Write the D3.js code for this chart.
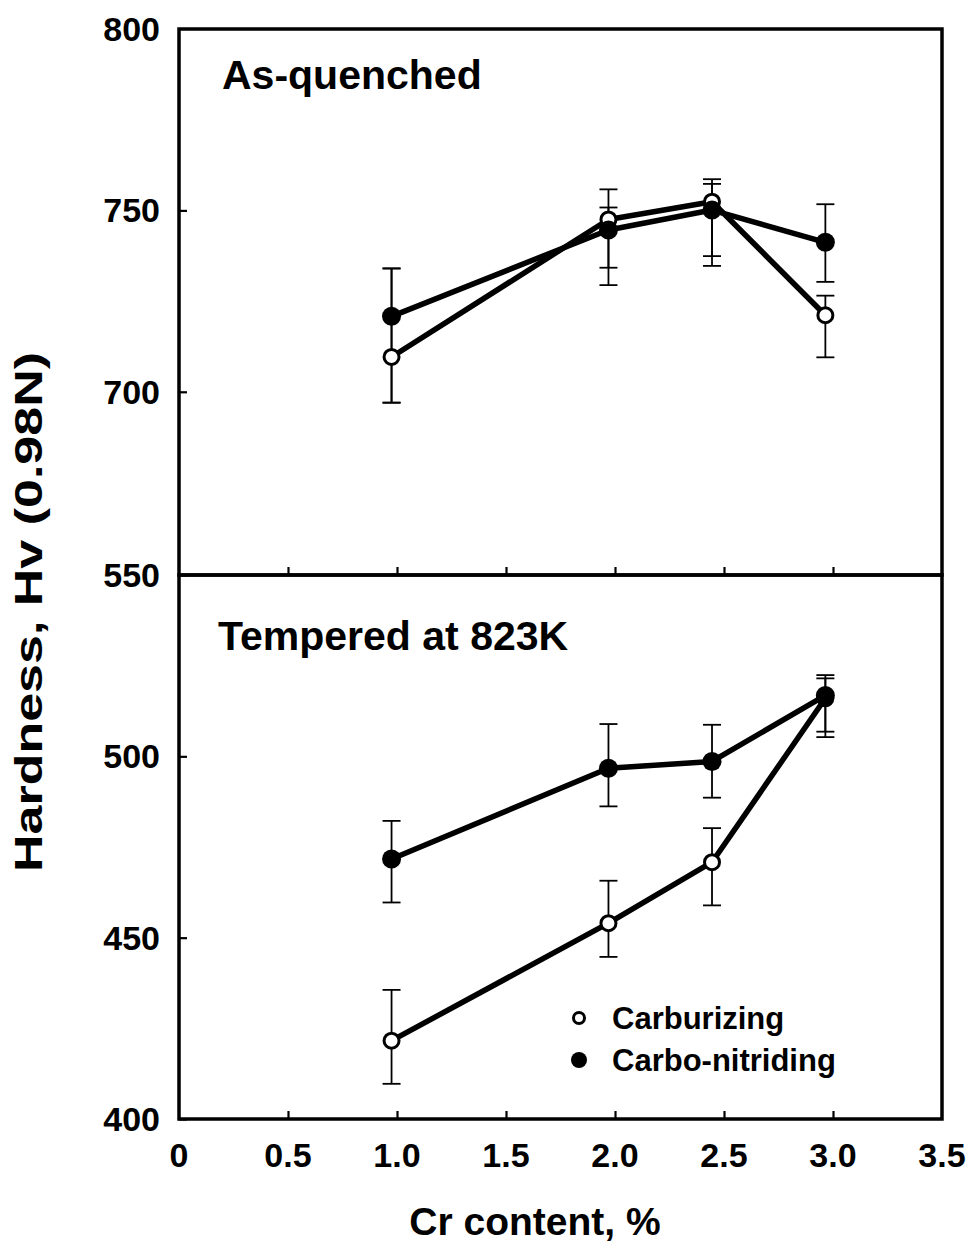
<!DOCTYPE html>
<html>
<head>
<meta charset="utf-8">
<script src="https://cdn.jsdelivr.net/npm/d3@7"></script>
<style>
  html, body { margin: 0; padding: 0; background: #fff; }
  svg { display: block; }
  text { font-family: "Liberation Sans", Arial, Helvetica, sans-serif; font-weight: bold; fill: #000; }
</style>
</head>
<body>
<svg id="chart" width="972" height="1248"></svg>
<script>
// ---- data ----
const crContent = [0.975, 1.97, 2.445, 2.965];

const xTicks = [0, 0.5, 1.0, 1.5, 2.0, 2.5, 3.0, 3.5];
const xTickLabels = ["0", "0.5", "1.0", "1.5", "2.0", "2.5", "3.0", "3.5"];
const topYTicks = [700, 750, 800];
const lowYTicks = [400, 450, 500, 550];

// As-quenched
const aqCarburizing = [709.6, 747.5, 752.4, 721.1];
const aqCarburizingLo = [697.0, 734.2, 737.4, 709.5];
const aqCarburizingHi = [734.0, 750.8, 758.6, 726.5];
const aqCarboNitriding = [720.8, 744.6, 750.1, 741.2];
const aqCarboNitridingLo = [697.0, 729.4, 734.7, 730.3];
const aqCarboNitridingHi = [734.0, 755.8, 757.3, 751.7];

// Tempered at 823K
const tpCarburizing = [421.6, 454.0, 470.8, 516.0];
const tpCarburizingLo = [409.7, 444.7, 458.9, 505.3];
const tpCarburizingHi = [435.6, 465.7, 480.2, 521.5];
const tpCarboNitriding = [471.7, 496.7, 498.6, 516.8];
const tpCarboNitridingLo = [459.7, 486.2, 488.6, 506.8];
const tpCarboNitridingHi = [482.2, 508.9, 508.7, 522.4];

const panelTitles = ["As-quenched", "Tempered at 823K"];
const legendLabels = ["Carburizing", "Carbo-nitriding"];

// ---- layout ----
const L = 179, R = 942, T = 29, D = 575, B = 1119;
const svg = d3.select("#chart");

const x = d3.scaleLinear().domain([0, 3.5]).range([L, R]);
const yTop = d3.scaleLinear().domain([649.5, 800]).range([D, T]);
const yLow = d3.scaleLinear().domain([400, 550]).range([B, D]);

function series(vals, lo, hi) {
  return crContent.map((c, i) => ({ x: c, y: vals[i], lo: lo[i], hi: hi[i] }));
}

const panels = [
  { y: yTop, ticks: topYTicks, title: panelTitles[0], titleX: 222, titleY: 89,
    open: series(aqCarburizing, aqCarburizingLo, aqCarburizingHi),
    filled: series(aqCarboNitriding, aqCarboNitridingLo, aqCarboNitridingHi) },
  { y: yLow, ticks: lowYTicks, title: panelTitles[1], titleX: 218, titleY: 650,
    open: series(tpCarburizing, tpCarburizingLo, tpCarburizingHi),
    filled: series(tpCarboNitriding, tpCarboNitridingLo, tpCarboNitridingHi) }
];

panels.forEach(p => {
  const g = svg.append("g");
  const [y0, y1] = p.y.range();

  // y axis (ticks inward, labels on left)
  const yAxis = d3.axisLeft(p.y).tickValues(p.ticks).tickSize(-8).tickPadding(19)
    .tickFormat(d3.format("d"));
  const ya = g.append("g").attr("transform", `translate(${L},0)`).call(yAxis);
  ya.select(".domain").remove();
  ya.selectAll(".tick line").attr("stroke", "#000").attr("stroke-width", 2.2);
  ya.selectAll(".tick text").attr("font-size", 34).attr("dy", "0.34em")
    .style("font-family", "'Liberation Sans', Arial, sans-serif").style("font-weight", "bold");
  ya.selectAll(".tick").filter(d => d === 800).select("line").remove();

  // x ticks on panel bottom, pointing up
  const xAxis = d3.axisBottom(x).tickValues(xTicks.slice(1, -1)).tickSize(-8).tickFormat("");
  const xa = g.append("g").attr("transform", `translate(0,${y0})`).call(xAxis);
  xa.select(".domain").remove();
  xa.selectAll(".tick line").attr("stroke", "#000").attr("stroke-width", 2.2);

  // frame
  g.append("rect").attr("x", L).attr("y", y1).attr("width", R - L).attr("height", y0 - y1)
    .attr("fill", "none").attr("stroke", "#000").attr("stroke-width", 3.5);

  // panel title
  g.append("text").attr("x", p.titleX).attr("y", p.titleY).attr("font-size", 41).text(p.title);

  // error bars
  const eb = g.append("g").attr("stroke", "#000").attr("stroke-width", 1.8);
  [p.open, p.filled].forEach(s => {
    s.forEach(d => {
      const cx = x(d.x);
      eb.append("line").attr("x1", cx).attr("x2", cx).attr("y1", p.y(d.lo)).attr("y2", p.y(d.hi));
      eb.append("line").attr("x1", cx - 9).attr("x2", cx + 9).attr("y1", p.y(d.lo)).attr("y2", p.y(d.lo));
      eb.append("line").attr("x1", cx - 9).attr("x2", cx + 9).attr("y1", p.y(d.hi)).attr("y2", p.y(d.hi));
    });
  });

  const line = d3.line().x(d => x(d.x)).y(d => p.y(d.y));
  [p.open, p.filled].forEach(s => {
    g.append("path").datum(s).attr("d", line).attr("fill", "none")
      .attr("stroke", "#000").attr("stroke-width", 5.5).attr("stroke-linejoin", "round");
  });

  g.selectAll(null).data(p.open).enter().append("circle")
    .attr("cx", d => x(d.x)).attr("cy", d => p.y(d.y)).attr("r", 7.5)
    .attr("fill", "#fff").attr("stroke", "#000").attr("stroke-width", 3);
  g.selectAll(null).data(p.filled).enter().append("circle")
    .attr("cx", d => x(d.x)).attr("cy", d => p.y(d.y)).attr("r", 9.5).attr("fill", "#000");
});

// bottom x tick labels
svg.append("g").selectAll("text").data(xTicks).enter().append("text")
  .attr("x", d => x(d)).attr("y", 1167).attr("text-anchor", "middle").attr("font-size", 34)
  .text((d, i) => xTickLabels[i]);

// axis titles
svg.append("text").attr("x", 535).attr("y", 1235).attr("text-anchor", "middle")
  .attr("font-size", 39).text("Cr content, %");
svg.append("text").attr("transform", "translate(42,612) rotate(-90)").attr("text-anchor", "middle")
  .attr("font-size", 39).attr("textLength", 520).attr("lengthAdjust", "spacingAndGlyphs")
  .text("Hardness, Hv (0.98N)");

// legend
const lg = svg.append("g");
lg.append("circle").attr("cx", 579).attr("cy", 1018).attr("r", 5.5)
  .attr("fill", "#fff").attr("stroke", "#000").attr("stroke-width", 3);
lg.append("circle").attr("cx", 579).attr("cy", 1060).attr("r", 8).attr("fill", "#000");
lg.append("text").attr("x", 612).attr("y", 1029).attr("font-size", 31).text(legendLabels[0]);
lg.append("text").attr("x", 612).attr("y", 1071).attr("font-size", 31).text(legendLabels[1]);
</script>
</body>
</html>
